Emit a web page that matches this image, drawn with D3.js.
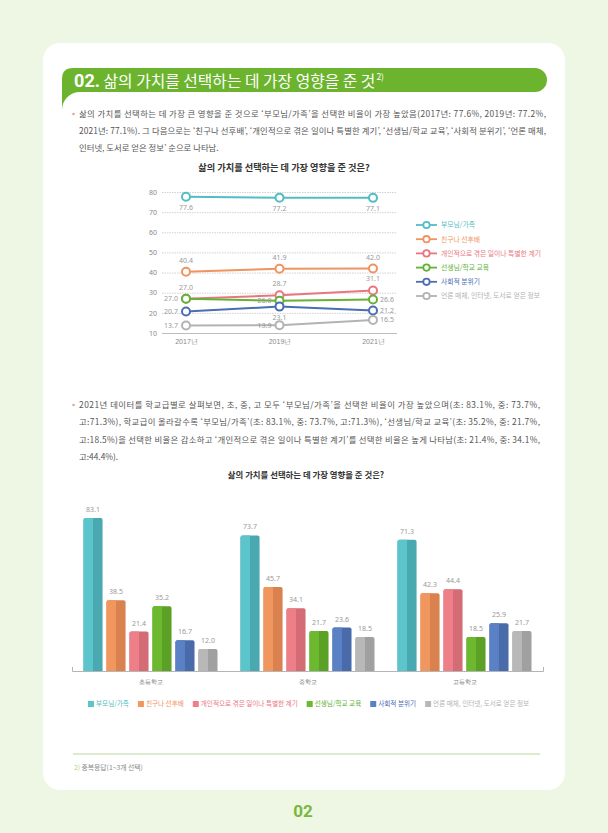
<!DOCTYPE html>
<html>
<head>
<meta charset="utf-8">
<script src="https://cdn.jsdelivr.net/npm/d3@7"></script>
<style>
  body { margin: 0; background: #eef6e4; }
  svg { display: block; font-family: "Noto Sans CJK KR", "Noto Sans", sans-serif; }
</style>
</head>
<body>
<div id="page"></div>
<script>
// ---- data ----
const years = ["2017년", "2019년", "2021년"];
const seriesNames = ["부모님/가족", "친구나 선후배", "개인적으로 겪은 일이나 특별한 계기", "선생님/학교 교육", "사회적 분위기", "언론 매체, 인터넷, 도서로 얻은 정보"];
const parentsTrend = [77.6, 77.2, 77.1];
const friendsTrend = [40.4, 41.9, 42.0];
const personalTrend = [27.0, 28.7, 31.1];
const teacherTrend = [27.0, 26.0, 26.6];
const socialTrend = [20.7, 23.1, 21.2];
const mediaTrend = [13.7, 13.9, 16.5];
const yTicks = [10, 20, 30, 40, 50, 60, 70, 80];

const schools = ["초등학교", "중학교", "고등학교"];
const elementary = [83.1, 38.5, 21.4, 35.2, 16.7, 12.0];
const middle = [73.7, 45.7, 34.1, 21.7, 23.6, 18.5];
const high = [71.3, 42.3, 44.4, 18.5, 25.9, 21.7];

const para1 = [
  "삶의 가치를 선택하는 데 가장 큰 영향을 준 것으로 ‘부모님/가족’을 선택한 비율이 가장 높았음(2017년: 77.6%, 2019년: 77.2%,",
  "2021년: 77.1%). 그 다음으로는 ‘친구나 선후배’, ‘개인적으로 겪은 일이나 특별한 계기’, ‘선생님/학교 교육’, ‘사회적 분위기’, ‘언론 매체,",
  "인터넷, 도서로 얻은 정보’ 순으로 나타남."
];
const para2 = [
  "2021년 데이터를 학교급별로 살펴보면, 초, 중, 고 모두 ‘부모님/가족’을 선택한 비율이 가장 높았으며(초: 83.1%, 중: 73.7%,",
  "고:71.3%), 학교급이 올라갈수록 ‘부모님/가족’(초: 83.1%, 중: 73.7%, 고:71.3%), ‘선생님/학교 교육’(초: 35.2%, 중: 21.7%,",
  "고:18.5%)을 선택한 비율은 감소하고 ‘개인적으로 겪은 일이나 특별한 계기’를 선택한 비율은 높게 나타남(초: 21.4%, 중: 34.1%,",
  "고:44.4%)."
];

// ---- styles ----
const lineColor = ["#53bcc4", "#ef9460", "#e9767f", "#62b236", "#4a6db3", "#b3b3b3"];
const barLight = ["#5cc4cb", "#f2965f", "#ee7f89", "#6cb92f", "#5a80c5", "#b8b8b8"];
const barDark = ["#4aa8b0", "#d9814f", "#d46c76", "#5aa126", "#4a6ba9", "#a0a0a0"];
// where each point label sits relative to its point
const labelSide = [
  ["below", "below", "below"],
  ["above", "above", "above"],
  ["left", "above", "above"],
  ["above", "left", "right"],
  ["left", "below", "right"],
  ["left", "left", "right"]
];

const W = 608, H = 833;
const svg = d3.select("#page").append("svg").attr("width", W).attr("height", H);

svg.append("rect").attr("width", W).attr("height", H).attr("fill", "#eef6e4");
svg.append("rect").attr("x", 43).attr("y", 43).attr("width", 522).attr("height", 747)
  .attr("rx", 17).attr("fill", "#fff");

// title tab
svg.append("path")
  .attr("d", "M62,79 Q62,68 73,68 H535 A12,12 0 0 1 535,92 H80 A18,18 0 0 0 62,110 Z")
  .attr("fill", "#6db42e");
const title = svg.append("text").attr("x", 74).attr("y", 87).attr("fill", "#fff");
title.append("tspan").text("02.").attr("font-family", "Roboto").attr("font-weight", 700)
  .attr("font-size", 19).attr("textLength", 26).attr("lengthAdjust", "spacingAndGlyphs");
title.append("tspan").text(" 삶의 가치를 선택하는 데 가장 영향을 준 것").attr("font-size", 15.8)
  .attr("font-weight", 400);
title.append("tspan").text("2)").attr("font-size", 8.5).attr("dy", -7).attr("dx", 1);

function paragraph(lines, x0, x1, y0, lh) {
  lines.forEach((t, i) => {
    const y = y0 + i * lh;
    if (i === 0) svg.append("circle").attr("cx", x0 - 5.5).attr("cy", y - 3).attr("r", 1.3).attr("fill", "#e8a3a3");
    const el = svg.append("text").attr("x", x0).attr("y", y).attr("font-size", 8.4)
      .attr("fill", "#555").text(t);
    if (i < lines.length - 1) el.attr("textLength", x1 - x0).attr("lengthAdjust", "spacing");
  });
}
paragraph(para1, 79, 546, 117, 17);
paragraph(para2, 79, 540, 408, 17.4);

svg.append("text").attr("x", 284).attr("y", 171).attr("text-anchor", "middle")
  .attr("font-size", 9.2).attr("font-weight", 700).attr("fill", "#333")
  .text("삶의 가치를 선택하는 데 가장 영향을 준 것은?");
svg.append("text").attr("x", 306).attr("y", 478).attr("text-anchor", "middle")
  .attr("font-size", 8.4).attr("font-weight", 700).attr("fill", "#333")
  .text("삶의 가치를 선택하는 데 가장 영향을 준 것은?");

// ---- line chart ----
const trends = [parentsTrend, friendsTrend, personalTrend, teacherTrend, socialTrend, mediaTrend];
const lx = d3.scalePoint().domain(years).range([186, 373]);
const ly = d3.scaleLinear().domain([10, 80]).range([333, 192]);
const gridL = 162, gridR = 397;

const yAxis = svg.append("g").attr("transform", `translate(${gridL},0)`)
  .call(d3.axisLeft(ly).tickValues(yTicks).tickSize(-(gridR - gridL)).tickPadding(5));
yAxis.select(".domain").remove();
yAxis.selectAll("line").attr("stroke", "#d2d2d2").attr("stroke-dasharray", "1.5,1");
yAxis.selectAll(".tick").filter(d => d === 10).select("line")
  .attr("stroke", "#bdbdbd").attr("stroke-dasharray", null);
yAxis.selectAll("text").attr("fill", "#888").attr("font-size", 7).attr("font-family", "Noto Sans");

const xAxis = svg.append("g").attr("transform", "translate(0,333)")
  .call(d3.axisBottom(lx).tickSize(0).tickPadding(6));
xAxis.select(".domain").remove();
xAxis.selectAll("text").attr("fill", "#888").attr("font-size", 7);

const line = d3.line().x((d, i) => lx(years[i])).y(d => ly(d));
trends.forEach((vals, s) => {
  const g = svg.append("g");
  g.append("path").attr("d", line(vals)).attr("fill", "none")
    .attr("stroke", lineColor[s]).attr("stroke-width", 2);
  g.selectAll("circle").data(vals).join("circle")
    .attr("cx", (d, i) => lx(years[i])).attr("cy", d => ly(d)).attr("r", 4)
    .attr("fill", "#fff").attr("stroke", lineColor[s]).attr("stroke-width", 2);
  g.selectAll("text").data(vals).join("text")
    .attr("font-size", 7).attr("font-family", "Noto Sans").attr("fill", "#999")
    .each(function (d, i) {
      const side = labelSide[s][i];
      const px = lx(years[i]), py = ly(d);
      const t = d3.select(this).text(d.toFixed(1));
      if (side === "below") t.attr("x", px).attr("y", py + 13).attr("text-anchor", "middle");
      if (side === "above") t.attr("x", px).attr("y", py - 9).attr("text-anchor", "middle");
      if (side === "left") t.attr("x", px - 8).attr("y", py + 2.5).attr("text-anchor", "end");
      if (side === "right") t.attr("x", px + 7).attr("y", py + 2.5).attr("text-anchor", "start");
    });
});

// line legend
const lgY = d3.scalePoint().domain(seriesNames).range([225, 296]);
seriesNames.forEach((name, s) => {
  const y = lgY(name);
  svg.append("line").attr("x1", 416).attr("x2", 437).attr("y1", y).attr("y2", y)
    .attr("stroke", lineColor[s]).attr("stroke-width", 1.8);
  svg.append("circle").attr("cx", 426.5).attr("cy", y).attr("r", 3.2)
    .attr("fill", "#fff").attr("stroke", lineColor[s]).attr("stroke-width", 1.8);
  svg.append("text").attr("x", 441).attr("y", y).attr("dy", "0.35em")
    .attr("font-size", 6.8).attr("fill", lineColor[s]).text(name);
});

// ---- bar chart ----
const barData = [elementary, middle, high];
const bx0 = d3.scaleBand().domain(schools).range([72, 543]);
const bx1 = d3.scaleBand().domain(seriesNames).range([0, bx0.bandwidth()])
  .paddingInner(0.17).paddingOuter(0.5);
const by = d3.scaleLinear().domain([0, 100]).range([671, 487]);

function topRounded(x, y, w, h, rl, rr) {
  return `M${x},${y + h}V${y + rl}Q${x},${y} ${x + rl},${y}H${x + w - rr}Q${x + w},${y} ${x + w},${y + rr}V${y + h}Z`;
}

barData.forEach((vals, gi) => {
  const g = svg.append("g").attr("transform", `translate(${bx0(schools[gi])},0)`);
  vals.forEach((v, s) => {
    const x = bx1(seriesNames[s]), w = bx1.bandwidth();
    const y = by(v), h = by(0) - by(v);
    g.append("path").attr("d", topRounded(x, y, w, h, 2, 2)).attr("fill", barDark[s]);
    g.append("path").attr("d", topRounded(x, y, w / 2, h, 2, 0)).attr("fill", barLight[s]);
    g.append("text").attr("x", x + w / 2).attr("y", y - 6).attr("text-anchor", "middle")
      .attr("font-size", 7).attr("font-family", "Noto Sans").attr("fill", "#999").text(v.toFixed(1));
  });
});

const bAxis = svg.append("g").attr("transform", "translate(0,671)")
  .call(d3.axisBottom(bx0).tickSizeInner(0).tickSizeOuter(-4).tickPadding(9));
bAxis.select(".domain").attr("stroke", "#b5b5b5");
bAxis.selectAll("text").attr("fill", "#777").attr("font-size", 6.2);

// bar legend
let lx0 = 88;
seriesNames.forEach((name, s) => {
  svg.append("rect").attr("x", lx0).attr("y", 701).attr("width", 6).attr("height", 6)
    .attr("fill", barLight[s]);
  const t = svg.append("text").attr("x", lx0 + 8).attr("y", 704).attr("dy", "0.35em")
    .attr("font-size", 6.6).attr("fill", lineColor[s]).text(name);
  lx0 += 8 + t.node().getComputedTextLength() + 9;
});

// footnote
svg.append("line").attr("x1", 73).attr("x2", 540).attr("y1", 754).attr("y2", 754)
  .attr("stroke", "#b9d59c").attr("stroke-width", 1);
const fn = svg.append("text").attr("x", 74).attr("y", 770).attr("font-size", 6.8).attr("fill", "#888");
fn.append("tspan").text("2) ").attr("fill", "#a9cf7e");
fn.append("tspan").text("중복응답(1~3개 선택)");

svg.append("text").attr("x", 303).attr("y", 817).attr("text-anchor", "middle")
  .attr("font-family", "Roboto").attr("font-weight", 700).attr("font-size", 17)
  .attr("fill", "#79b83c").text("02");
</script>
</body>
</html>
